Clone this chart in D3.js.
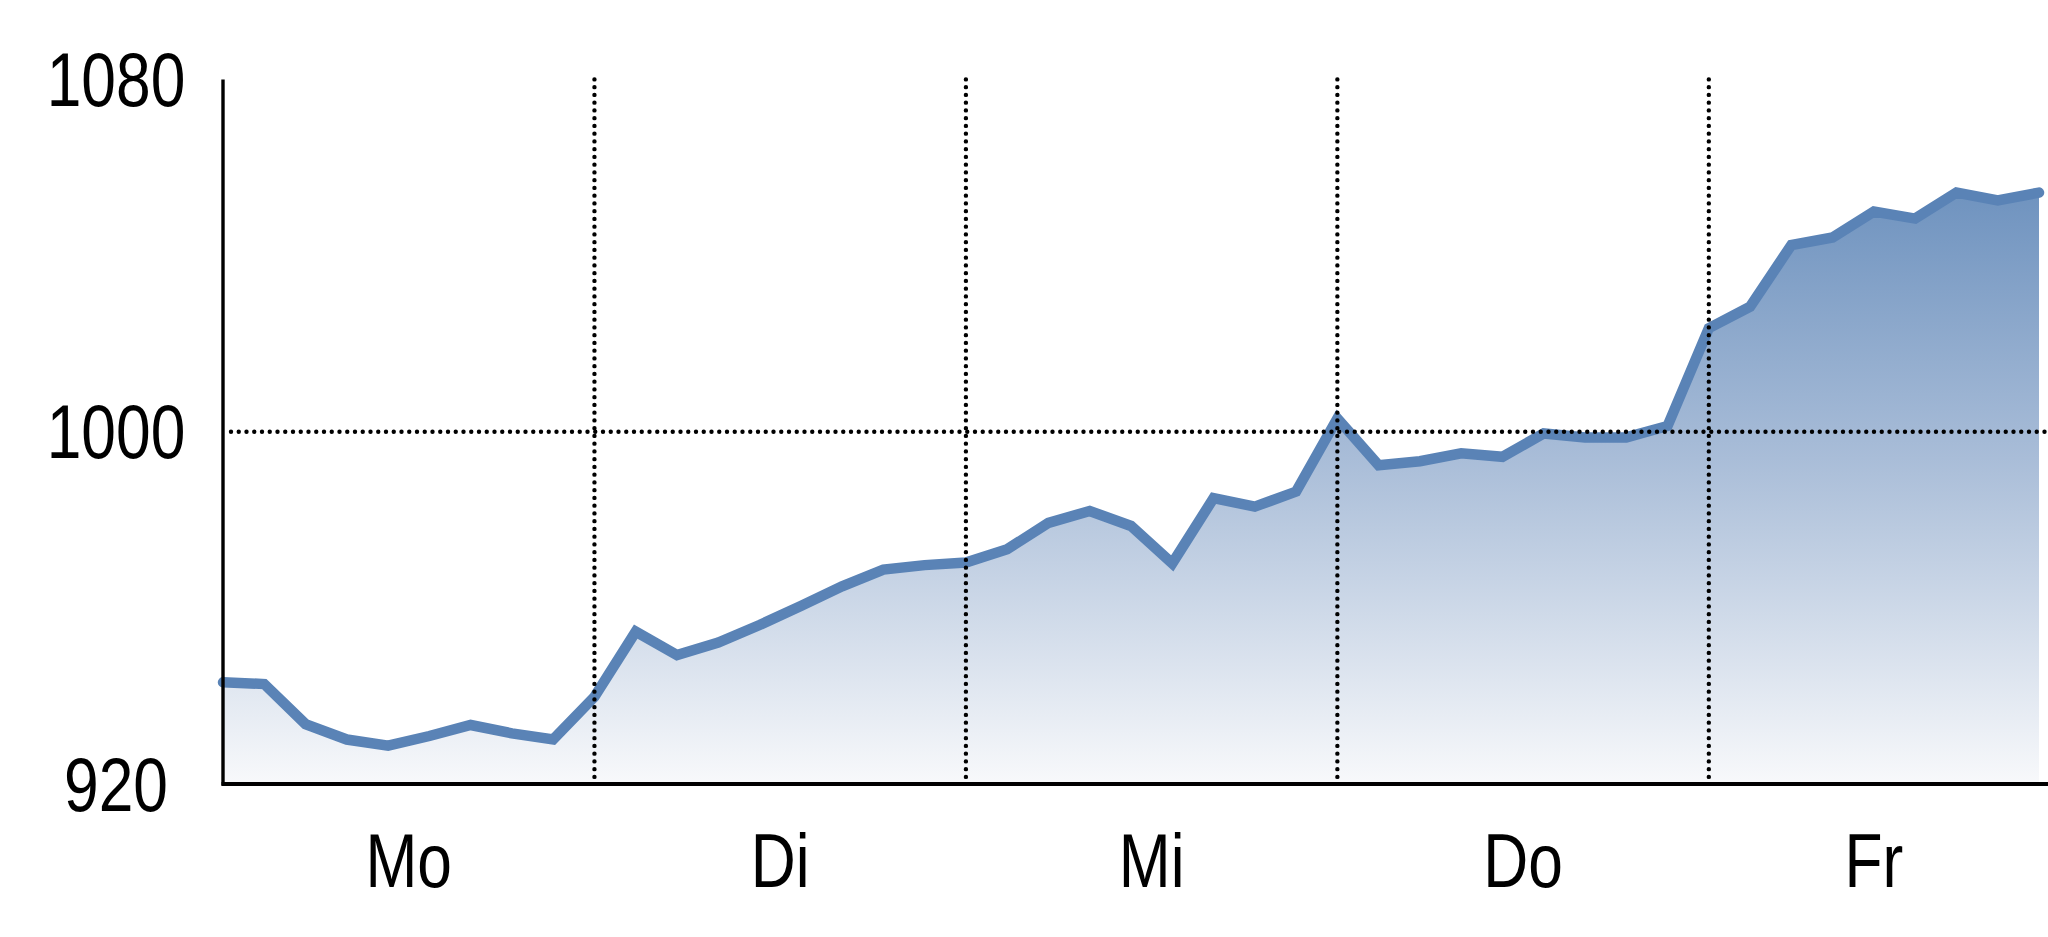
<!DOCTYPE html>
<html>
<head>
<meta charset="utf-8">
<script src="https://cdn.jsdelivr.net/npm/d3@7/dist/d3.min.js"></script>
<style>
  html, body { margin: 0; padding: 0; background: #ffffff; }
  svg { display: block; }
  text { font-family: "Liberation Sans Narrow", "Arial Narrow", "Liberation Sans", Arial, sans-serif; fill: #000; }
</style>
</head>
<body>
<svg id="chart" width="2048" height="937"></svg>
<script>
// ---- data ----
const days = ["Mo", "Di", "Mi", "Do", "Fr"];
const dayStart = [0, 9, 18, 27, 36];
const dayEnd = [9, 18, 27, 36, 44];
const yTicks = [920, 1000, 1080];
const values = [
  943.1, 942.7, 933.6, 930.1, 928.7, 930.9, 933.4, 931.5, 930.1,
  939.8, 954.6, 949.3, 952.1, 956.1, 960.4, 964.9, 968.7, 969.7,
  970.3, 973.3, 979.3, 982.0, 978.6, 970.1, 984.9, 983.0, 986.4,
  1003.0, 992.4, 993.3, 995.1, 994.3, 999.6, 998.7, 998.7, 1001.3,
  1023.5, 1028.4, 1042.4, 1044.1, 1050.0, 1048.4, 1054.3, 1052.5, 1054.3
];

// ---- layout ----
const W = 2048, H = 937;
const mLeft = 223, mRight = 2039, mTop = 79.4, mBottom = 784;
const narrow = 0.82;
const svg = d3.select("#chart");

const x = d3.scaleLinear().domain([0, values.length - 1]).range([mLeft, mRight]);
const y = d3.scaleLinear().domain([920, 1080]).range([mBottom, mTop]);

// gradient
const defs = svg.append("defs");
const grad = defs.append("linearGradient")
  .attr("id", "areaGrad")
  .attr("gradientUnits", "userSpaceOnUse")
  .attr("x1", 0).attr("x2", 0)
  .attr("y1", y(d3.max(values))).attr("y2", y(920));
grad.append("stop").attr("offset", "0%").attr("stop-color", "#6f93bf");
grad.append("stop").attr("offset", "45%").attr("stop-color", "#a9bdd8");
grad.append("stop").attr("offset", "100%").attr("stop-color", "#f8f9fb");

// area
const area = d3.area()
  .x((d, i) => x(i))
  .y0(y(920))
  .y1(d => y(d));
svg.append("path")
  .datum(values)
  .attr("d", area)
  .attr("fill", "url(#areaGrad)");

// line
const line = d3.line()
  .x((d, i) => x(i))
  .y(d => y(d));
svg.append("path")
  .datum(values)
  .attr("d", line)
  .attr("fill", "none")
  .attr("stroke", "#5a83b6")
  .attr("stroke-width", 10.5)
  .attr("stroke-linejoin", "miter")
  .attr("stroke-linecap", "round");

// dotted grid
const dotStyle = sel => sel
  .attr("stroke", "#000")
  .attr("stroke-width", 4.4)
  .attr("stroke-linecap", "round")
  .attr("stroke-dasharray", "0 7.75");

svg.append("line")
  .attr("x1", mLeft + 8).attr("x2", W)
  .attr("y1", y(1000)).attr("y2", y(1000))
  .call(dotStyle);

svg.selectAll(".vgrid")
  .data(dayStart.slice(1))
  .enter().append("line")
  .attr("class", "vgrid")
  .attr("x1", d => x(d)).attr("x2", d => x(d))
  .attr("y1", y(1080)).attr("y2", y(920))
  .call(dotStyle);

// axes lines
svg.append("line")
  .attr("x1", mLeft).attr("x2", mLeft)
  .attr("y1", y(1080)).attr("y2", y(920) + 1.5)
  .attr("stroke", "#000").attr("stroke-width", 3.4);
svg.append("line")
  .attr("x1", mLeft - 1.5).attr("x2", W)
  .attr("y1", y(920)).attr("y2", y(920))
  .attr("stroke", "#000").attr("stroke-width", 3.8);

// y tick labels
svg.selectAll(".ylab")
  .data(yTicks)
  .enter().append("text")
  .attr("class", "ylab")
  .attr("transform", d => `translate(116,${y(d)}) scale(${narrow},1)`)
  .attr("dy", "0.35em")
  .attr("text-anchor", "middle")
  .attr("font-size", 76)
  .text(d => d);

// x day labels
svg.selectAll(".xlab")
  .data(days)
  .enter().append("text")
  .attr("class", "xlab")
  .attr("transform", (d, i) => `translate(${x((dayStart[i] + dayEnd[i]) / 2)},887) scale(${narrow},1)`)
  .attr("text-anchor", "middle")
  .attr("font-size", 76)
  .text(d => d);
</script>
</body>
</html>
